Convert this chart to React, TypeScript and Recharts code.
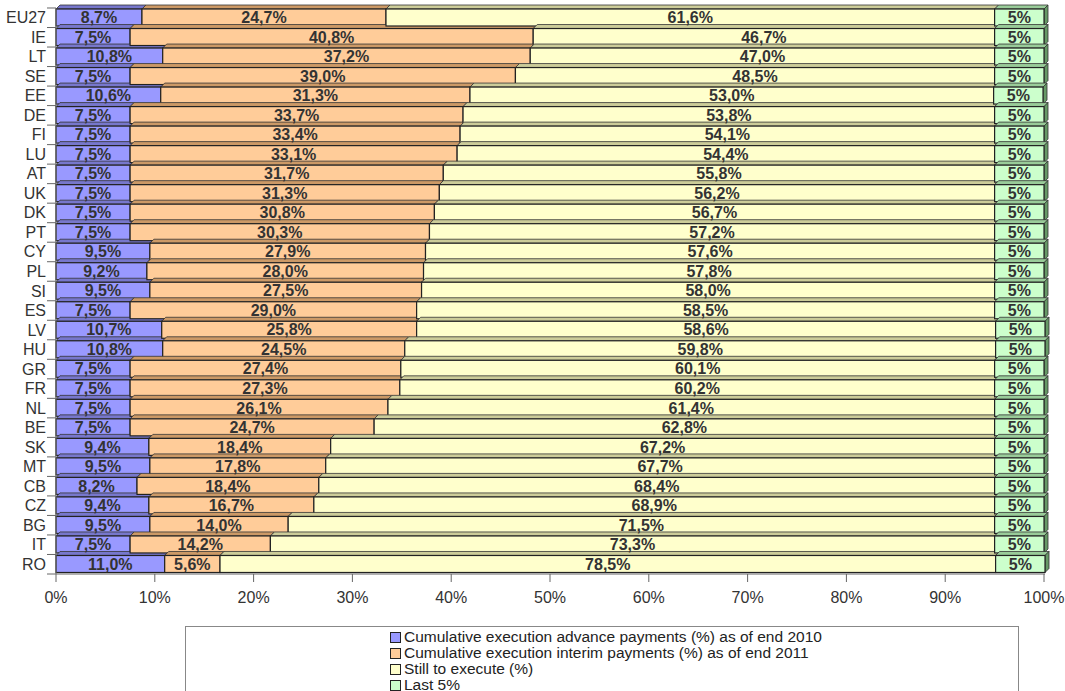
import React from "react"
import { BarChart, Bar, XAxis, YAxis, LabelList } from "recharts"

const countries = ["EU27", "IE", "LT", "SE", "EE", "DE", "FI", "LU", "AT", "UK", "DK", "PT", "CY", "PL", "SI", "ES", "LV", "HU", "GR", "FR", "NL", "BE", "SK", "MT", "CB", "CZ", "BG", "IT", "RO"]
const advance = [8.7, 7.5, 10.8, 7.5, 10.6, 7.5, 7.5, 7.5, 7.5, 7.5, 7.5, 7.5, 9.5, 9.2, 9.5, 7.5, 10.7, 10.8, 7.5, 7.5, 7.5, 7.5, 9.4, 9.5, 8.2, 9.4, 9.5, 7.5, 11.0]
const interim = [24.7, 40.8, 37.2, 39.0, 31.3, 33.7, 33.4, 33.1, 31.7, 31.3, 30.8, 30.3, 27.9, 28.0, 27.5, 29.0, 25.8, 24.5, 27.4, 27.3, 26.1, 24.7, 18.4, 17.8, 18.4, 16.7, 14.0, 14.2, 5.6]
const still = [61.6, 46.7, 47.0, 48.5, 53.0, 53.8, 54.1, 54.4, 55.8, 56.2, 56.7, 57.2, 57.6, 57.8, 58.0, 58.5, 58.6, 59.8, 60.1, 60.2, 61.4, 62.8, 67.2, 67.7, 68.4, 68.9, 71.5, 73.3, 78.5]
const last = [5, 5, 5, 5, 5, 5, 5, 5, 5, 5, 5, 5, 5, 5, 5, 5, 5, 5, 5, 5, 5, 5, 5, 5, 5, 5, 5, 5, 5]
const xTicks = [0, 10, 20, 30, 40, 50, 60, 70, 80, 90, 100]

const seriesNames = [
  "Cumulative execution advance payments (%) as of end 2010",
  "Cumulative execution interim payments (%) as of end 2011",
  "Still to execute (%)",
  "Last 5%",
]
const COLORS = ["#9999FF", "#FFCC99", "#FFFFCC", "#CCFFCC"]
const TOPS = ["#7777CC", "#CC9966", "#CCCC99", "#99CC99"]

const data = countries.map((name, i) => ({
  name,
  advance: advance[i],
  interim: interim[i],
  still: still[i],
  last: last[i],
}))

const FONT = "Arial, 'Liberation Sans', sans-serif"
const HALF_BAND = 9.76

const fmt1 = (v: any) => Number(v).toFixed(1).replace(".", ",") + "%"
const fmt0 = (v: any) => `${v}%`

// fake Excel-style 3D: a top face on every bar, a side face on the last series
const make3D = (topFill: string, sideFill?: string) => (props: any) => {
  const { x, y, width, height, fill } = props
  const d = 4
  return (
    <g>
      <polygon
        points={`${x},${y} ${x + d},${y - d} ${x + width + d},${y - d} ${x + width},${y}`}
        fill={topFill}
        stroke="#333"
        strokeWidth={0.8}
      />
      {sideFill && (
        <polygon
          points={`${x + width},${y} ${x + width + d},${y - d} ${x + width + d},${y + height - d} ${x + width},${y + height}`}
          fill={sideFill}
          stroke="#333"
          strokeWidth={0.8}
        />
      )}
      <rect x={x} y={y} width={width} height={height} fill={fill} stroke="#222" strokeWidth={1.2} />
    </g>
  )
}

const CategoryTick = (props: any) => {
  const { x, y, payload, index } = props
  return (
    <g>
      <text x={x} y={y} dy={5.5} textAnchor="end" fill="#333" fontSize={16} fontFamily={FONT}>
        {payload.value}
      </text>
      <line x1={x + 1} x2={x + 10} y1={y - HALF_BAND} y2={y - HALF_BAND} stroke="#666" />
      {index === countries.length - 1 && (
        <line x1={x + 1} x2={x + 10} y1={y + HALF_BAND} y2={y + HALF_BAND} stroke="#666" />
      )}
    </g>
  )
}

const labelProps = {
  position: "center" as const,
  fill: "#333",
  fontSize: 16,
  fontWeight: "bold",
  fontFamily: FONT,
}

export default function App() {
  return (
    <div style={{ position: "absolute", left: 0, top: 0, width: 1065, height: 691, background: "#fff", fontFamily: FONT }}>
      <BarChart
        width={1065}
        height={691}
        data={data}
        layout="vertical"
        margin={{ top: 8, right: 20, bottom: 87, left: 0 }}
        barSize={17}
      >
        <XAxis
          type="number"
          domain={[0, 100]}
          ticks={xTicks}
          tickFormatter={(v) => `${v}%`}
          tickSize={8}
          tickMargin={10}
          height={30}
          stroke="#666"
          tick={{ fill: "#333", fontSize: 16, fontFamily: FONT }}
          interval={0}
        />
        <YAxis
          type="category"
          dataKey="name"
          width={56}
          tickLine={false}
          tickSize={0}
          tickMargin={10}
          stroke="#666"
          tick={<CategoryTick />}
          interval={0}
        />
        <Bar dataKey="advance" stackId="a" fill={COLORS[0]} shape={make3D(TOPS[0])} isAnimationActive={false}>
          <LabelList dataKey="advance" formatter={fmt1} {...labelProps} />
        </Bar>
        <Bar dataKey="interim" stackId="a" fill={COLORS[1]} shape={make3D(TOPS[1])} isAnimationActive={false}>
          <LabelList dataKey="interim" formatter={fmt1} {...labelProps} />
        </Bar>
        <Bar dataKey="still" stackId="a" fill={COLORS[2]} shape={make3D(TOPS[2])} isAnimationActive={false}>
          <LabelList dataKey="still" formatter={fmt1} {...labelProps} />
        </Bar>
        <Bar dataKey="last" stackId="a" fill={COLORS[3]} shape={make3D(TOPS[3], "#669966")} isAnimationActive={false}>
          <LabelList dataKey="last" formatter={fmt0} {...labelProps} />
        </Bar>
      </BarChart>
      <div
        style={{
          position: "absolute",
          left: 185,
          top: 626,
          width: 834,
          height: 80,
          border: "1px solid #888",
          boxSizing: "border-box",
          background: "#fff",
          paddingLeft: 204,
          paddingTop: 2,
        }}
      >
        {seriesNames.map((n, i) => (
          <div key={n} style={{ display: "flex", alignItems: "center", height: 16, fontSize: 15.5, color: "#222", whiteSpace: "nowrap" }}>
            <span
              style={{
                display: "inline-block",
                width: 9,
                height: 9,
                background: COLORS[i],
                border: "1.5px solid #222",
                marginRight: 3,
              }}
            />
            {n}
          </div>
        ))}
      </div>
    </div>
  )
}
